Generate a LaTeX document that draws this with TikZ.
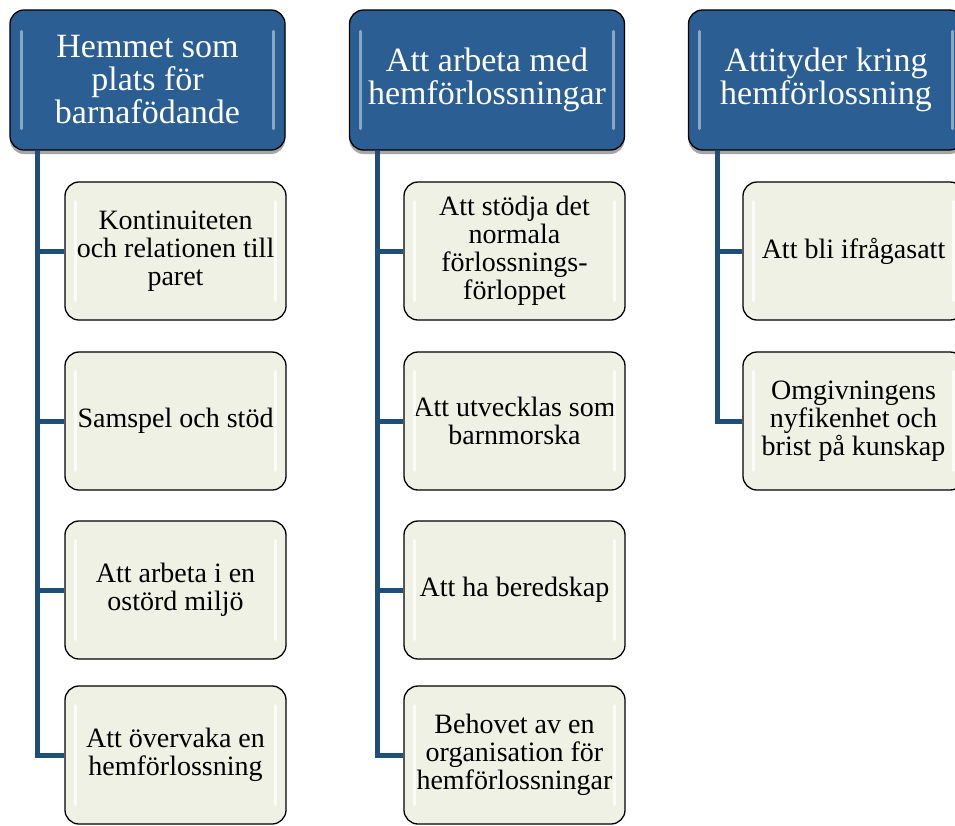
\documentclass[tikz,border=0pt]{standalone}
\usepackage{fontspec}
\setmainfont{Liberation Serif}
\usetikzlibrary{shadows}
\definecolor{hdrblue}{HTML}{2B5E92}
\definecolor{linkblue}{HTML}{1F4E79}
\definecolor{childfill}{HTML}{EEF1E4}
\tikzset{
  hdr/.style={draw=black, line width=1.3pt, fill=hdrblue, rounded corners=14pt,
    minimum width=275pt, minimum height=140pt, align=center, text=white,
    font=\fontsize{34}{33}\selectfont,
    drop shadow={shadow xshift=0pt, shadow yshift=-4pt, opacity=0.35, fill=black}},
  kid/.style={draw=black, line width=1.3pt, fill=childfill, rounded corners=14pt,
    minimum width=221pt, minimum height=138pt, align=center, text=black,
    font=\fontsize{28}{28}\selectfont},
  conn/.style={draw=linkblue, line width=5pt},
  shine/.style={white, line width=3pt, line cap=round, opacity=0.45},
  kidshine/.style={white, line width=3pt, line cap=round, opacity=0.8},
}
\begin{document}
\begin{tikzpicture}[x=1pt, y=-1pt]
\clip (0,0) rectangle (955,825);
\fill[white] (0,0) rectangle (955,825);

% headers
\node[hdr] (h1) at (147.5,80) {Hemmet som\\plats för\\barnafödande};
\node[hdr] (h2) at (487,80) {Att arbeta med\\hemförlossningar};
\node[hdr] (h3) at (826,80) {Attityder kring\\hemförlossning};

% children
\node[kid] (a1) at (175.5,251) {Kontinuiteten\\och relationen till\\paret};
\node[kid] (a2) at (175.5,421) {Samspel och stöd};
\node[kid] (a3) at (175.5,590) {Att arbeta i en\\ostörd miljö};
\node[kid] (a4) at (175.5,755) {Att övervaka en\\hemförlossning};

\node[kid] (b1) at (514.5,251) {Att stödja det\\normala\\förlossnings-\\förloppet};
\node[kid] (b2) at (514.5,421) {Att utvecklas som\\barnmorska};
\node[kid] (b3) at (514.5,590) {Att ha beredskap};
\node[kid] (b4) at (514.5,755) {Behovet av en\\organisation för\\hemförlossningar};

\node[kid] (c1) at (853.5,251) {Att bli ifrågasatt};
\node[kid] (c2) at (853.5,421) {Omgivningens\\nyfikenhet och\\brist på kunskap};

% highlight strips
\foreach \n in {h1,h2,h3}{
  \draw[shine] ([xshift=12pt,yshift=-22pt]\n.north west) -- ([xshift=12pt,yshift=22pt]\n.south west);
  \draw[shine] ([xshift=-12pt,yshift=-22pt]\n.north east) -- ([xshift=-12pt,yshift=22pt]\n.south east);
}
\foreach \n in {a1,a2,a3,a4,b1,b2,b3,b4,c1,c2}{
  \draw[kidshine] ([xshift=11pt,yshift=-20pt]\n.north west) -- ([xshift=11pt,yshift=20pt]\n.south west);
  \draw[kidshine] ([xshift=-11pt,yshift=-20pt]\n.north east) -- ([xshift=-11pt,yshift=20pt]\n.south east);
}

% connectors
\coordinate (h1x) at ([xshift=28pt]h1.south west);
\coordinate (h2x) at ([xshift=29pt]h2.south west);
\coordinate (h3x) at ([xshift=30pt]h3.south west);
\foreach \k in {a1,a2,a3,a4}{ \draw[conn] (h1x) |- (\k.west); }
\foreach \k in {b1,b2,b3,b4}{ \draw[conn] (h2x) |- (\k.west); }
\foreach \k in {c1,c2}{ \draw[conn] (h3x) |- (\k.west); }
\end{tikzpicture}
\end{document}
